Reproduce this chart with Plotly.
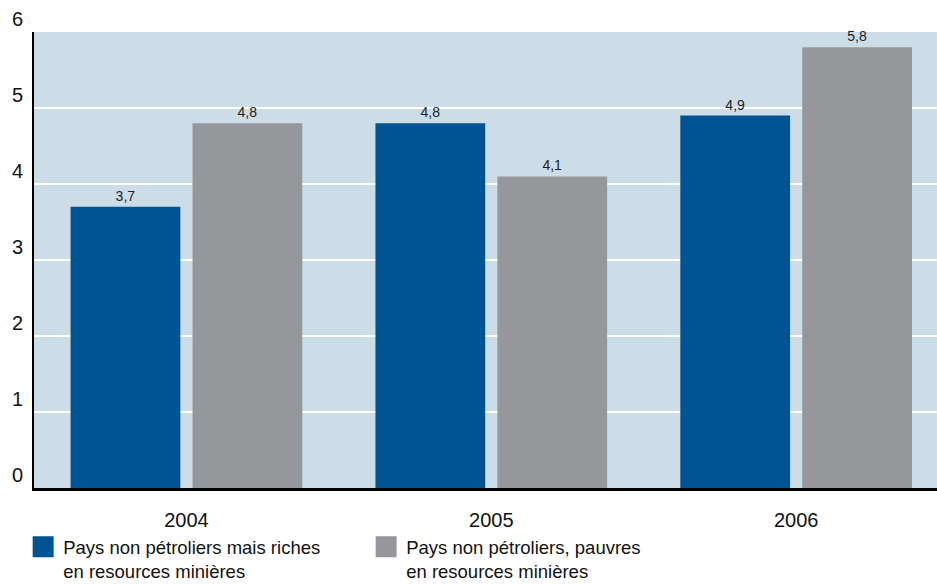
import plotly.graph_objects as go

years = ["2004", "2005", "2006"]
riches = [3.7, 4.8, 4.9]
pauvres = [4.8, 4.1, 5.8]
name_riches = "Pays non pétroliers mais riches<br>en resources minières"
name_pauvres = "Pays non pétroliers, pauvres<br>en resources minières"
y_ticks = [0, 1, 2, 3, 4, 5, 6]

BLUE = "#005494"
GRAY = "#96979B"
BG = "#CCDDE8"
FONT = "Liberation Sans, Arial, sans-serif"


def fr(v):
    return f"{v:.1f}".replace(".", ",")


fig = go.Figure()
fig.add_trace(go.Bar(
    x=years, y=riches, width=0.36, offset=-0.38,
    marker=dict(color=BLUE, line=dict(width=0)),
    text=[fr(v) for v in riches], textposition="outside",
    textfont=dict(size=14, color="#222222", family=FONT),
    cliponaxis=False, showlegend=False, hoverinfo="skip",
))
fig.add_trace(go.Bar(
    x=years, y=pauvres, width=0.36, offset=0.02,
    marker=dict(color=GRAY, line=dict(width=0)),
    text=[fr(v) for v in pauvres], textposition="outside",
    textfont=dict(size=14, color="#222222", family=FONT),
    cliponaxis=False, showlegend=False, hoverinfo="skip",
))

# legend entries with large square swatches
for nm, col in [(name_riches, BLUE), (name_pauvres, GRAY)]:
    fig.add_trace(go.Scatter(
        x=[None], y=[None], mode="markers", name=nm,
        marker=dict(symbol="square", size=16, color=col,
                    line=dict(width=5, color=col)),
    ))

fig.update_layout(
    width=937, height=584,
    margin=dict(l=34, r=0, t=32, b=96, autoexpand=False),
    paper_bgcolor="white", plot_bgcolor=BG,
    font=dict(family=FONT, color="#111111"),
    legend=dict(
        orientation="h", x=-0.012, y=-0.088, xanchor="left", yanchor="top",
        entrywidth=298, entrywidthmode="pixels", valign="top",
        font=dict(size=18.5, family=FONT, color="#111111"),
        itemsizing="trace", tracegroupgap=0, bgcolor="rgba(0,0,0,0)",
    ),
    xaxis=dict(
        type="category", range=[-0.5, 2.462],
        showgrid=False, showline=True, linecolor="black", linewidth=3,
        ticks="", tickfont=dict(size=20, family=FONT, color="#111111"),
        ticklabelstandoff=12,
    ),
    yaxis=dict(
        range=[0, 6], tickvals=y_ticks, ticktext=[str(v) for v in y_ticks],
        showgrid=True, gridcolor="white", gridwidth=2, zeroline=False,
        showline=True, linecolor="black", linewidth=2,
        ticks="", tickfont=dict(size=20, family=FONT, color="#111111"),
        ticklabelshift=-13, ticklabelstandoff=5,
    ),
)

fig.write_html("out.html")
